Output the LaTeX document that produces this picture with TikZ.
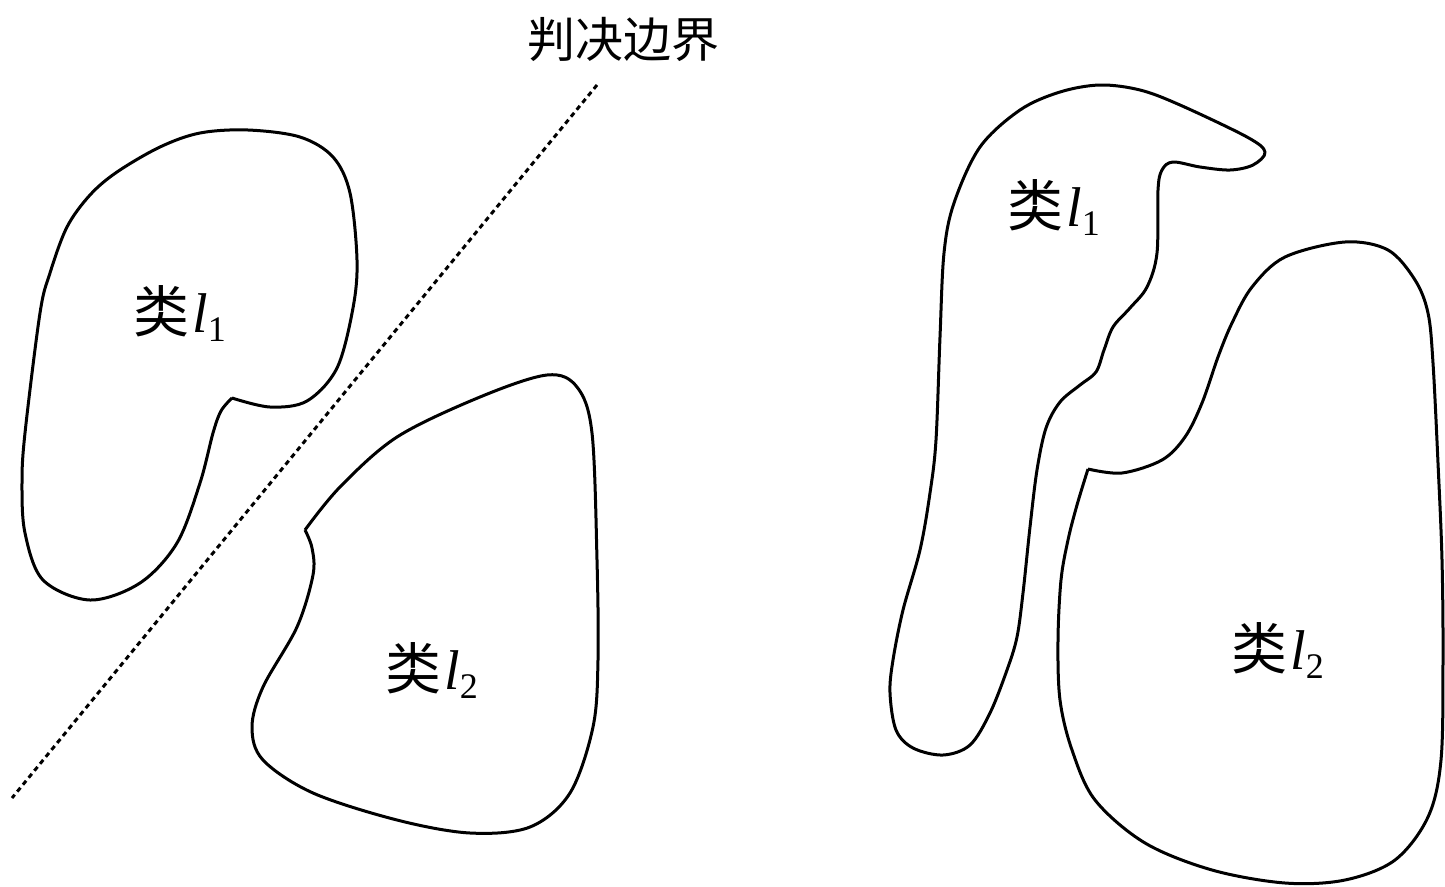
\documentclass[tikz,border=0pt]{standalone}
\usepackage{fontspec}
\setmainfont{Liberation Serif}
\newfontfamily\cjkfont{Noto Sans CJK SC}
\newcommand\clslabel[1]{{\cjkfont 类}\hspace{3pt}{\itshape l}\raisebox{-9pt}{\fontsize{36}{36}\selectfont #1}}
\begin{document}
\begin{tikzpicture}[x=1pt,y=-1pt,
  outline/.style={line width=3pt, line join=round},
  boundary/.style={line width=3pt, dash pattern=on 5pt off 4pt},
  lbl/.style={inner sep=0pt, anchor=base west, font=\fontsize{56}{60}\selectfont},
  ttl/.style={inner sep=0pt, anchor=base west, font=\cjkfont\fontsize{48}{52}\selectfont}]
\useasboundingbox (0,0) rectangle (1445,886);

% decision boundary
\node[ttl] (title) at (527,57) {判决边界};
\coordinate (bTop) at (597,85);
\coordinate (bBot) at (12,798);
\draw[boundary] (bTop) -- (bBot);

% left class l1
\draw[outline] plot[smooth, tension=0.55] coordinates {
  (232,398) (270,407) (307,401) (337,368) (353,308) (357,260) (350,193)
  (333,157) (300,137) (248,130) (200,133) (160,147) (117,172) (90,195)
  (67,227) (50,273) (40,313) (25,433) (22,483) (25,533) (43,580) (90,600)
  (140,583) (177,543) (200,483) (213,433) (221,411) (232,398)};
\node[lbl] (aL1) at (133,332) {\clslabel{1}};

% left class l2
\draw[outline] plot[smooth, tension=0.55] coordinates {
  (305,530) (340,487) (397,437) (480,397) (547,375) (577,387) (592,433)
  (597,560) (598,660) (593,727) (570,793) (530,827) (470,833) (397,820)
  (313,793) (263,760) (252,727) (263,687) (297,627) (313,575) (312,548) (305,530)};
\node[lbl] (aL2) at (385,689) {\clslabel{2}};

% right class l1
\draw[outline] plot[smooth cycle, tension=0.55] coordinates {
  (1100,85) (1140,90) (1180,105) (1247,137) (1265,152) (1253,165) (1230,170)
  (1200,167) (1173,162) (1162,170) (1158,190) (1157,253) (1147,287)
  (1130,308) (1113,327) (1104,350) (1096,372) (1080,385) (1060,402)
  (1046,428) (1037,470) (1030,527) (1023,593) (1017,637) (1007,670)
  (990,713) (970,745) (943,755) (913,748) (896,730) (890,693) (893,660)
  (903,610) (920,550) (930,493) (936,440) (940,337) (944,253) (954,203)
  (980,147) (1020,110) (1060,92)};
\node[lbl] (bL1) at (1007,226) {\clslabel{1}};

% right class l2
\draw[outline] plot[smooth, tension=0.55] coordinates {
  (1088,469) (1122,473) (1162,460) (1185,437) (1202,403) (1218,357)
  (1232,323) (1252,287) (1285,257) (1345,242) (1388,250) (1415,280)
  (1428,313) (1433,363) (1438,463) (1442,560) (1443,660) (1441,760)
  (1428,817) (1395,860) (1345,880) (1285,883) (1212,870) (1145,843)
  (1095,800) (1072,750) (1060,700) (1058,640) (1061,580) (1068,540)
  (1077,505) (1088,469)};
\node[lbl] (bL2) at (1231,669) {\clslabel{2}};
\end{tikzpicture}
\end{document}
